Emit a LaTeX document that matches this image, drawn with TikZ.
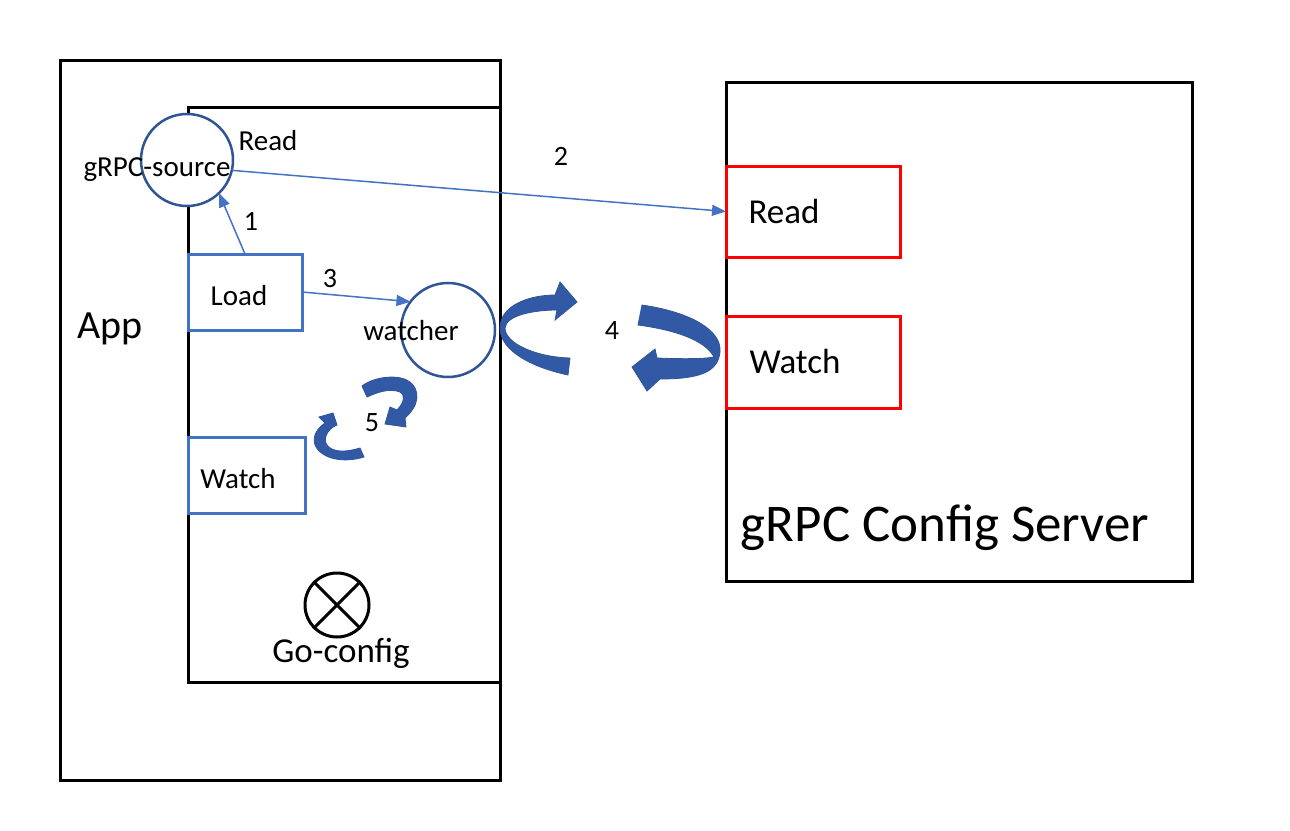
\documentclass[tikz,border=0pt]{standalone}
\usepackage{fontspec}
\setmainfont{Carlito}
\usetikzlibrary{arrows.meta}
\definecolor{lblue}{HTML}{4472C4}
\definecolor{dblue}{HTML}{2F5597}
\definecolor{fblue}{HTML}{3259A6}
\begin{document}
\begin{tikzpicture}[x=1pt,y=-1pt,
  blackbox/.style={draw=black,line width=3pt,inner sep=0pt,outer sep=0pt},
  redbox/.style={draw=red,line width=3pt,inner sep=0pt,outer sep=0pt},
  bluebox/.style={draw=lblue,line width=3pt,inner sep=0pt,outer sep=0pt},
  ring/.style={circle,draw=dblue,line width=2.5pt,fill=white,inner sep=0pt,outer sep=0pt},
  lbl/.style={font=\fontsize{29}{34}\selectfont,anchor=base,inner sep=0pt},
  num/.style={font=\fontsize{28}{34}\selectfont,anchor=base,inner sep=0pt},
  biglbl/.style={font=\fontsize{35}{42}\selectfont,anchor=base,inner sep=0pt},
  thinarrow/.style={draw=lblue,line width=1.5pt,-{Triangle[length=14pt,width=11pt]}},
  curvedarrow/.style={fill=fblue,draw=dblue,line width=0.8pt}]
\fill[white] (0,0) rectangle (1290,830);
\useasboundingbox (0,0) rectangle (1290,830);

% boxes
\node[blackbox,minimum width=440pt,minimum height=720pt] (app) at (280,420) {};
\node[blackbox,minimum width=312pt,minimum height=575pt] (goconfig) at (344,394.5) {};
\node[blackbox,minimum width=466pt,minimum height=499pt] (server) at (959,331.5) {};
\node[redbox,minimum width=174pt,minimum height=91pt] (sread) at (813,211.5) {};
\node[redbox,minimum width=174pt,minimum height=92pt] (swatch) at (813,362) {};
\node[bluebox,minimum width=114pt,minimum height=76pt] (load) at (245,292) {};
\node[bluebox,minimum width=117pt,minimum height=76pt] (watch) at (246.5,475) {};

% circles
\node[ring,minimum size=92pt] (src) at (187,160) {};
\node[ring,minimum size=94pt] (watcher) at (448,330) {};

% Go-config symbol
\node[circle,draw=black,line width=3pt,minimum size=64pt,inner sep=0pt] (gsym) at (337,605) {};
\draw[line width=3pt] (gsym.45) -- (gsym.225) (gsym.135) -- (gsym.-45);

% texts
\node[lbl] (tsrc) at (157,176) {gRPC-source};
\node[lbl] (tread) at (268,150) {Read};
\node[lbl] (tload) at (239,305) {Load};
\node[lbl] (twatcher) at (411,340) {watcher};
\node[lbl] (twatch) at (238,488) {Watch};
\node[font=\fontsize{40}{48}\selectfont,anchor=base,inner sep=0pt] (tapp) at (110,338) {App};
\node[biglbl] (tsread) at (784,223) {Read};
\node[biglbl] (tswatch) at (795,373) {Watch};
\node[biglbl] (tgo) at (341,662) {Go-config};
\node[font=\fontsize{53}{62}\selectfont,anchor=base,inner sep=0pt] (tserver) at (945,541) {gRPC Config Server};
\node[num] (n1) at (251,230) {1};
\node[num] (n2) at (561,165) {2};
\node[num] (n3) at (330,287) {3};
\node[num] (n4) at (612,339) {4};
\node[num] (n5) at (372,431) {5};

% thin connectors
\draw[thinarrow] (src.-13) -- (sread.west);
\draw[thinarrow] (load.north) -- (src.-46);
\draw[thinarrow] (load.east) -- (watcher.143);

% curved arrows (4)
\filldraw[curvedarrow] (568,375) .. controls (535,368) and (500,352) .. (500,328)
  .. controls (500,305) and (530,295) .. (555,295) -- (560,282) -- (577,302) -- (555,320) -- (557,310)
  .. controls (535,310) and (506,315) .. (505,328)
  .. controls (505,343) and (535,357) .. (570,358) -- cycle;
\filldraw[curvedarrow] (642,305) .. controls (690,312) and (722,330) .. (720,352)
  .. controls (718,372) and (700,379) .. (660,379) -- (647,391) -- (632,367) -- (655,349) -- (657,358)
  .. controls (680,359) and (705,359) .. (714,357)
  .. controls (705,340) and (675,330) .. (638,325) -- cycle;
% curved arrows (5)
\filldraw[curvedarrow] (362,386) .. controls (375,376) and (400,374) .. (410,382)
  .. controls (420,390) and (420,405) .. (405,418) -- (406,427) -- (385,424) -- (390,407) -- (397,410)
  .. controls (405,402) and (405,394) .. (400,392)
  .. controls (390,388) and (378,392) .. (367,397) -- cycle;
\filldraw[curvedarrow] (364,457) .. controls (345,463) and (322,460) .. (315,445)
  .. controls (312,435) and (318,428) .. (325,423) -- (319,417) -- (333,413) -- (337,425) -- (333,427)
  .. controls (325,433) and (322,442) .. (330,448)
  .. controls (338,453) and (350,451) .. (360,448) -- cycle;
\end{tikzpicture}
\end{document}
